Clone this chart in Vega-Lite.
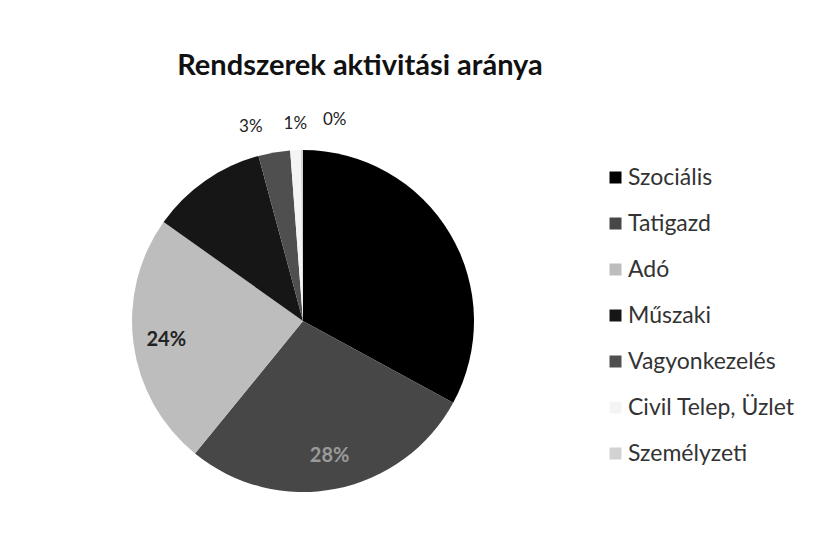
{
  "$schema": "https://vega.github.io/schema/vega-lite/v6.json",
  "width": 342,
  "height": 342,
  "autosize": {"type": "none"},
  "padding": {"left": 132, "top": 150, "right": 345, "bottom": 51},
  "background": "white",
  "config": {"view": {"stroke": null}, "font": "Lato"},
  "title": {
    "text": "Rendszerek aktivitási aránya",
    "fontSize": 29,
    "font": "Lato",
    "fontWeight": "bold",
    "color": "#111",
    "anchor": "middle",
    "frame": "group",
    "baseline": "alphabetic",
    "dx": 57,
    "offset": 7
  },
  "data": {
    "values": [
      {"rendszer": "Szociális", "idx": 1, "arany": 0.33},
      {"rendszer": "Tatigazd", "idx": 2, "arany": 0.28},
      {"rendszer": "Adó", "idx": 3, "arany": 0.24},
      {"rendszer": "Műszaki", "idx": 4, "arany": 0.11},
      {"rendszer": "Vagyonkezelés", "idx": 5, "arany": 0.03},
      {"rendszer": "Civil Telep, Üzlet", "idx": 6, "arany": 0.01},
      {"rendszer": "Személyzeti", "idx": 7, "arany": 0.002}
    ]
  },
  "encoding": {
    "theta": {"field": "arany", "type": "quantitative", "stack": true},
    "order": {"field": "idx", "type": "quantitative"}
  },
  "layer": [
    {
      "mark": {"type": "arc", "outerRadius": 171},
      "encoding": {
        "color": {
          "field": "rendszer",
          "type": "nominal",
          "scale": {
            "domain": ["Szociális", "Tatigazd", "Adó", "Műszaki", "Vagyonkezelés", "Civil Telep, Üzlet", "Személyzeti"],
            "range": ["#000000", "#474747", "#bdbdbd", "#161616", "#4f4f4f", "#f4f4f4", "#d2d2d2"]
          },
          "legend": {
            "orient": "none",
            "legendX": 472,
            "legendY": 16,
            "title": null,
            "symbolType": "square",
            "symbolSize": 144,
            "symbolStrokeWidth": 0,
            "labelFontSize": 23,
            "labelFont": "Lato",
            "labelColor": "#333",
            "labelOffset": 1,
            "rowPadding": 22,
            "labelLimit": 300
          }
        }
      }
    },
    {
      "mark": {"type": "text", "radius": 138, "fontSize": 20, "fontWeight": "bold"},
      "encoding": {
        "text": {"condition": {"test": "datum.idx <= 4", "field": "arany", "type": "quantitative", "format": ".0%"}, "value": ""},
        "color": {
          "condition": [
            {"test": "datum.idx == 1", "value": "#000000"},
            {"test": "datum.idx == 2", "value": "#9a9a9a"},
            {"test": "datum.idx == 4", "value": "#161616"}
          ],
          "value": "#222222"
        }
      }
    },
    {
      "mark": {"type": "text", "radius": 197, "dx": -19, "fontSize": 17, "color": "#222"},
      "encoding": {
        "text": {"condition": {"test": "datum.idx == 5", "field": "arany", "type": "quantitative", "format": ".0%"}, "value": ""}
      }
    },
    {
      "mark": {"type": "text", "radius": 197, "dx": 1, "fontSize": 17, "color": "#222"},
      "encoding": {
        "text": {"condition": {"test": "datum.idx == 6", "field": "arany", "type": "quantitative", "format": ".0%"}, "value": ""}
      }
    },
    {
      "mark": {"type": "text", "radius": 197, "dx": 33, "dy": -4, "fontSize": 17, "color": "#222"},
      "encoding": {
        "text": {"condition": {"test": "datum.idx == 7", "field": "arany", "type": "quantitative", "format": ".0%"}, "value": ""}
      }
    }
  ]
}
